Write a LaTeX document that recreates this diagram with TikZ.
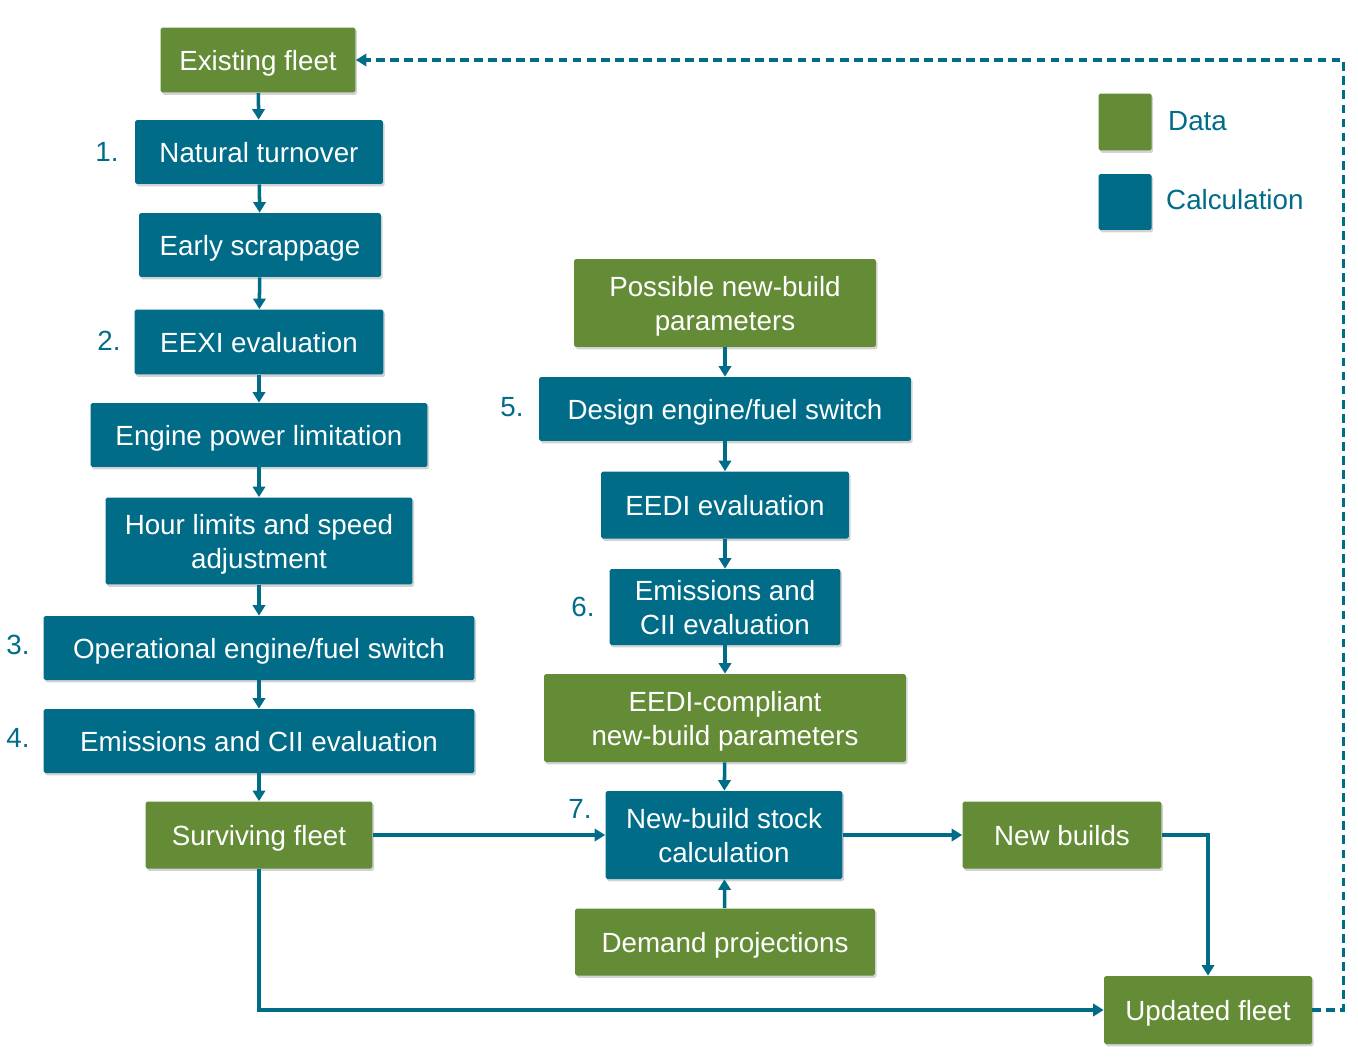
\documentclass[tikz,border=0pt]{standalone}
\usepackage{fontspec}
\setmainfont{Liberation Sans}
\usepackage{tikz}
\usetikzlibrary{arrows.meta,shadows}
\definecolor{datagreen}{RGB}{100,139,53}
\definecolor{calcblue}{RGB}{0,108,135}

\tikzset{
  box/.style = {rectangle, rounded corners=1pt, inner sep=0pt, align=center,
                text=white, font=\fontsize{15.8}{19.3}\selectfont, text depth=0pt,
                drop shadow={shadow xshift=0.9pt, shadow yshift=-1.3pt, opacity=0.35}},
  databox/.style = {box, fill=datagreen},
  calcbox/.style = {box, fill=calcblue},
  num/.style = {text=calcblue, font=\fontsize{15.8}{19}\selectfont},
  flow/.style = {draw=calcblue, line width=2pt, -{Triangle[length=6pt,width=7pt]}}
}

\begin{document}
\begin{tikzpicture}[x=0.02cm, y=-0.02cm]
  \useasboundingbox (0,0) rectangle (1358,1061);
  % left column
  \node [databox, minimum width=3.90cm, minimum height=1.30cm] (exist) at (258,60) {Existing fleet};
  \node [calcbox, minimum width=4.96cm, minimum height=1.28cm] (natural) at (259,152) {Natural turnover};
  \node [calcbox, minimum width=4.84cm, minimum height=1.28cm] (early) at (260,245) {Early scrappage};
  \node [calcbox, minimum width=4.98cm, minimum height=1.30cm] (eexi) at (259,342) {EEXI evaluation};
  \node [calcbox, minimum width=6.74cm, minimum height=1.28cm] (epl) at (259,435) {Engine power limitation};
  \node [calcbox, minimum width=6.14cm, minimum height=1.74cm] (hour) at (259,541) {Hour limits and speed\\adjustment};
  \node [calcbox, minimum width=8.62cm, minimum height=1.28cm] (opswitch) at (259,648) {Operational engine/fuel switch};
  \node [calcbox, minimum width=8.62cm, minimum height=1.28cm] (emisold) at (259,741) {Emissions and CII evaluation};
  \node [databox, minimum width=4.54cm, minimum height=1.34cm] (surviving) at (259,835) {Surviving fleet};
  % middle column
  \node [databox, minimum width=6.04cm, minimum height=1.76cm] (possible) at (725,303) {Possible new-build\\parameters};
  \node [calcbox, minimum width=7.44cm, minimum height=1.28cm] (design) at (725,409) {Design engine/fuel switch};
  \node [calcbox, minimum width=4.96cm, minimum height=1.34cm] (eedi) at (725,505) {EEDI evaluation};
  \node [calcbox, minimum width=4.62cm, minimum height=1.52cm] (emisnew) at (725,607) {Emissions and\\CII evaluation};
  \node [databox, minimum width=7.24cm, minimum height=1.76cm] (compliant) at (725,718) {EEDI-compliant\\new-build parameters};
  \node [calcbox, minimum width=4.74cm, minimum height=1.76cm] (stock) at (724,835) {New-build stock\\calculation};
  \node [databox, minimum width=6.00cm, minimum height=1.34cm] (demand) at (725,942) {Demand projections};
  % right side
  \node [databox, minimum width=3.98cm, minimum height=1.34cm] (newbuilds) at (1062,835) {New builds};
  \node [databox, minimum width=4.16cm, minimum height=1.36cm] (updated) at (1208,1010) {Updated fleet};
  % legend
  \node [databox, minimum width=1.06cm, minimum height=1.14cm] (legdata) at (1125,122) {};
  \node [calcbox, minimum width=1.06cm, minimum height=1.12cm] (legcalc) at (1125,202) {};
  \node [num, anchor=west] (legdatatxt) at (1162,121) {Data};
  \node [num, anchor=west] (legcalctxt) at (1160,200) {Calculation};
  % step numbers
  \node [num] (n1) at (107,152) {1.};
  \node [num] (n2) at (109,341) {2.};
  \node [num] (n3) at (18,645) {3.};
  \node [num] (n4) at (18,738) {4.};
  \node [num] (n5) at (512,407) {5.};
  \node [num] (n6) at (583,607) {6.};
  \node [num] (n7) at (580,809) {7.};
  % arrows
  \draw [flow] (exist) -- (natural);
  \draw [flow] (natural) -- (early);
  \draw [flow] (early) -- (eexi);
  \draw [flow] (eexi) -- (epl);
  \draw [flow] (epl) -- (hour);
  \draw [flow] (hour) -- (opswitch);
  \draw [flow] (opswitch) -- (emisold);
  \draw [flow] (emisold) -- (surviving);
  \draw [flow] (possible) -- (design);
  \draw [flow] (design) -- (eedi);
  \draw [flow] (eedi) -- (emisnew);
  \draw [flow] (emisnew) -- (compliant);
  \draw [flow] (compliant) -- (stock);
  \draw [flow] (demand) -- (stock);
  \draw [flow] (surviving) -- (stock);
  \draw [flow] (stock) -- (newbuilds);
  \draw [flow] (newbuilds.east) -| (updated.north);
  \draw [flow] (surviving.south) |- (updated.west);
  \draw [flow, dash pattern=on 5pt off 3pt] (updated.east) -- ++(31,0) |- (exist.east);
\end{tikzpicture}
\end{document}
